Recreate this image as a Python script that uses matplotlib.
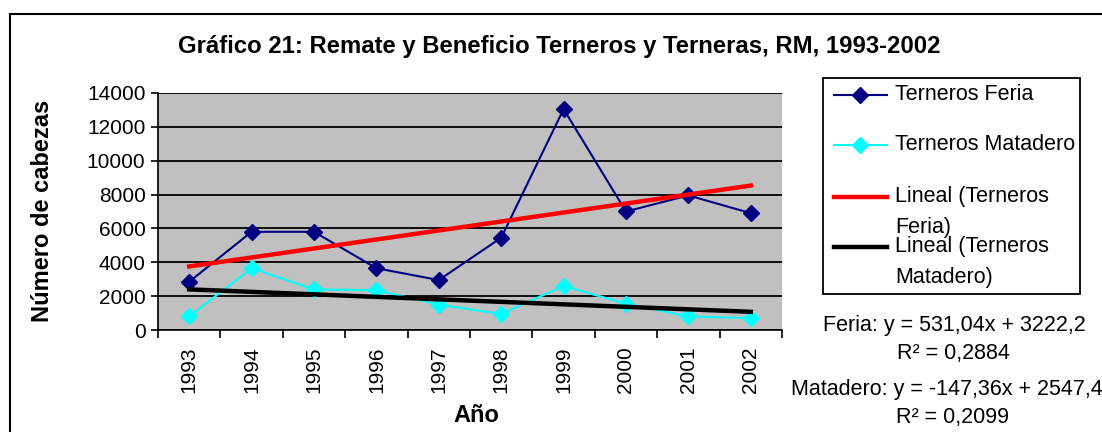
import matplotlib
matplotlib.use('Agg')
import matplotlib.pyplot as plt
from matplotlib.lines import Line2D
from matplotlib.patches import Rectangle
import numpy as np

plt.rcParams['font.family'] = ['Liberation Sans', 'DejaVu Sans']

years = ['1993', '1994', '1995', '1996', '1997', '1998', '1999', '2000', '2001', '2002']
feria = [2850, 5800, 5800, 3650, 2950, 5450, 13050, 7000, 7950, 6900]
matadero = [800, 3650, 2400, 2350, 1500, 950, 2600, 1550, 800, 700]
# trend lines as printed on the chart
feria_fit = (531.04, 3222.2)
matadero_fit = (-147.36, 2547.4)

W, H = 1102, 432
def fx(px):
    return px / W
def fy(py):
    return 1 - py / H

fig = plt.figure(figsize=(W / 100, H / 100), dpi=100)
ax = fig.add_axes([fx(158), fy(330), (782 - 158) / W, (330 - 93) / H])
ax.set_facecolor('#c0c0c0')

x = np.arange(1, len(years) + 1)
ax.plot(x, feria, '-D', color='#000080', lw=1.5, ms=8, zorder=4)
ax.plot(x, matadero, '-D', color='#00ffff', lw=1.5, ms=8, zorder=4)
ax.plot(x, feria_fit[0] * x + feria_fit[1], color='#ff0000', lw=3.2, zorder=5)
ax.plot(x, matadero_fit[0] * x + matadero_fit[1], color='black', lw=3.2, zorder=5)

ax.set_xlim(0.5, len(years) + 0.5)
ax.set_ylim(0, 14000)
ax.set_yticks(np.arange(0, 14001, 2000))
ax.yaxis.grid(True, color='black', lw=1.3)
ax.set_axisbelow(True)
ax.set_xticks(np.arange(0.5, len(years) + 1, 1))
ax.set_xticklabels([])
ax.set_xticks(x, minor=True)
ax.set_xticklabels(years, minor=True, rotation=90, fontsize=15)
ax.tick_params(axis='x', which='major', length=6, width=1.2, direction='out')
ax.tick_params(axis='x', which='minor', length=0, pad=12)
ax.tick_params(axis='y', length=5, width=1.2, labelsize=15, pad=4)
for s in ['top', 'right']:
    ax.spines[s].set_visible(False)
ax.spines['left'].set_linewidth(1.2)
ax.spines['bottom'].set_linewidth(1.2)

fig.text(fx(559), fy(46), 'Gráfico 21: Remate y Beneficio Terneros y Terneras, RM, 1993-2002',
         ha='center', va='center', fontsize=17.2, fontweight='bold')
fig.text(fx(43), fy(211), 'Número de cabezas', rotation=90, ha='center', va='center',
         fontsize=17, fontweight='bold')
fig.text(fx(476), fy(415), 'Año', ha='center', va='center', fontsize=17, fontweight='bold')

# outer chart frame
fig.add_artist(Rectangle((fx(10), -0.2), 2, fy(14) + 0.2, transform=fig.transFigure,
                         fill=False, lw=1.5, ec='black'))

# legend box
fig.add_artist(Rectangle((fx(823), fy(294)), (1080 - 823) / W, (294 - 78) / H,
                         transform=fig.transFigure, fill=False, lw=1.3, ec='black'))
entries = [
    (95, 'Terneros Feria', '#000080', 1.5, True, 95),
    (145, 'Terneros Matadero', '#00ffff', 1.5, True, 145),
    (197, 'Lineal (Terneros\nFeria)', '#ff0000', 3.2, False, 212),
    (247, 'Lineal (Terneros\nMatadero)', 'black', 3.2, False, 262),
]
for yl, label, col, lw, mk, yt in entries:
    fig.add_artist(Line2D([fx(834), fx(887)], [fy(yl), fy(yl)], color=col, lw=lw,
                          transform=fig.transFigure))
    if mk:
        fig.add_artist(Line2D([fx(860)], [fy(yl)], marker='D', ms=8, color=col,
                              transform=fig.transFigure))
    fig.text(fx(895), fy(yt), label, ha='left', va='center', fontsize=15.5, linespacing=1.6)

fig.text(fx(954), fy(325), 'Feria: y = 531,04x + 3222,2', ha='center', va='center', fontsize=15.5)
fig.text(fx(953), fy(353), 'R² = 0,2884', ha='center', va='center', fontsize=15.5)
fig.text(fx(791), fy(390), 'Matadero: y = -147,36x + 2547,4', ha='left', va='center', fontsize=15.5)
fig.text(fx(953), fy(417), 'R² = 0,2099', ha='center', va='center', fontsize=15.5)

plt.savefig('out.png', dpi=100)
